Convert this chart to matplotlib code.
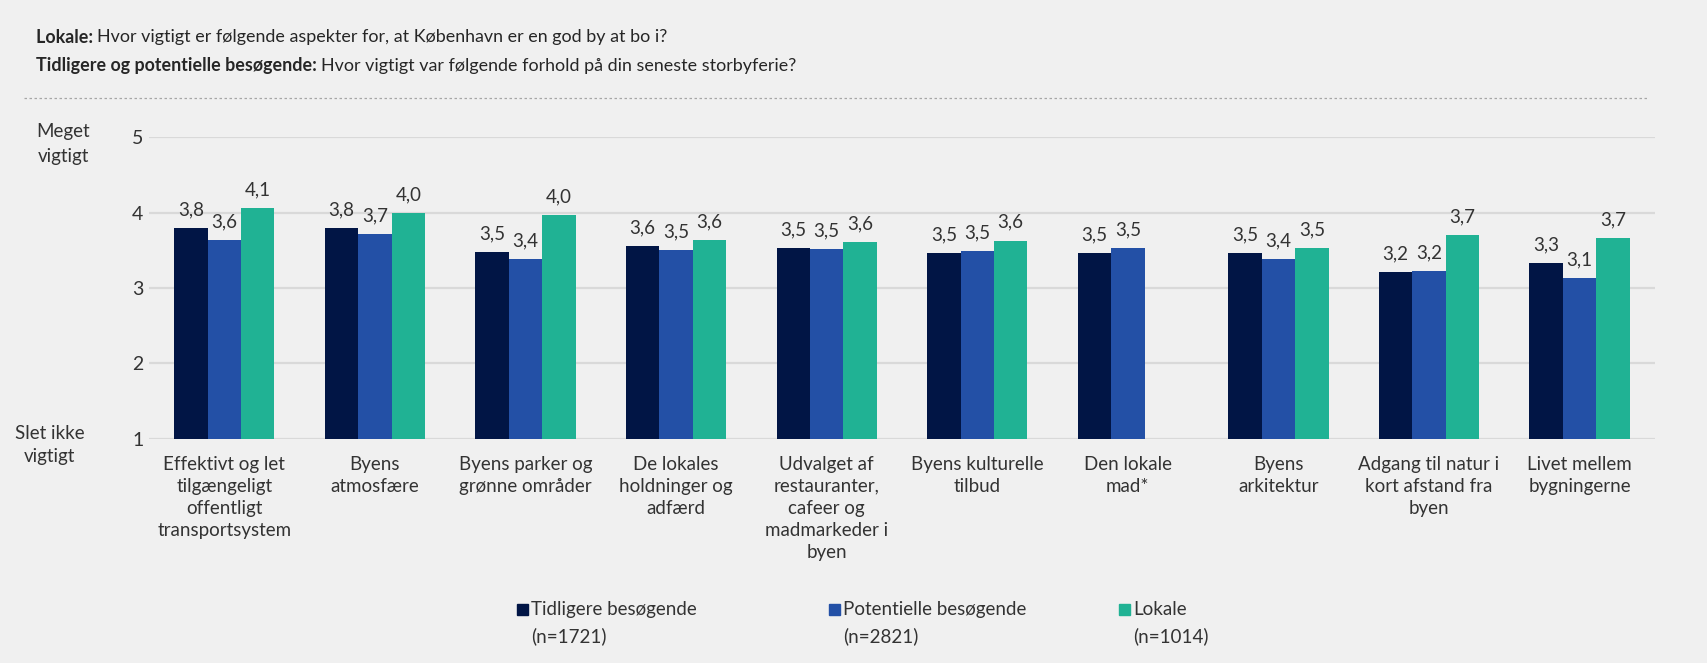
import numpy as np
import matplotlib
matplotlib.use("Agg")
import matplotlib.pyplot as plt
from matplotlib.patches import Rectangle
from matplotlib.lines import Line2D

plt.rcParams['font.family'] = ['Lato', 'DejaVu Sans']

# --- DATA ---
categories = [
    "Effektivt og let\ntilgængeligt\noffentligt\ntransportsystem",
    "Byens\natmosfære",
    "Byens parker og\ngrønne områder",
    "De lokales\nholdninger og\nadfærd",
    "Udvalget af\nrestauranter,\ncafeer og\nmadmarkeder i\nbyen",
    "Byens kulturelle\ntilbud",
    "Den lokale\nmad*",
    "Byens\narkitektur",
    "Adgang til natur i\nkort afstand fra\nbyen",
    "Livet mellem\nbygningerne",
]
tidligere = [3.79, 3.79, 3.48, 3.56, 3.53, 3.47, 3.47, 3.46, 3.21, 3.33]
potentielle = [3.64, 3.72, 3.38, 3.51, 3.52, 3.49, 3.53, 3.39, 3.23, 3.13]
lokale = [4.06, 3.99, 3.97, 3.64, 3.61, 3.63, np.nan, 3.53, 3.70, 3.66]

series_names = ["Tidligere besøgende", "Potentielle besøgende", "Lokale"]
series_n = ["(n=1721)", "(n=2821)", "(n=1014)"]
colors = ["#011545", "#2350a6", "#20b294"]
yticks = [1, 2, 3, 4, 5]

BG = "#f0f0f0"
TXT = "#333333"

fig = plt.figure(figsize=(17.07, 6.63), dpi=100, facecolor=BG)
ax = fig.add_axes([0.0873, 0.338, 0.8822, 0.455])
ax.set_facecolor(BG)

x = np.arange(len(categories))
w = 0.222
for i, vals in enumerate([tidligere, potentielle, lokale]):
    vals = np.array(vals, dtype=float)
    bars = ax.bar(x + (i - 1) * w, vals - 1, bottom=1, width=w, color=colors[i],
                  edgecolor="none", zorder=3)
    labels = ["" if np.isnan(v) else f"{v:.1f}".replace(".", ",") for v in vals]
    ax.bar_label(bars, labels=labels, padding=7, fontsize=13.5, color=TXT)

ax.set_xlim(-0.5, len(categories) - 0.5)
ax.set_ylim(1, 5)
ax.set_yticks(yticks)
ax.set_yticklabels([str(t) for t in yticks], fontsize=14, color=TXT)
ax.tick_params(axis='y', length=0, pad=4)
ax.set_xticks(x)
ax.set_xticklabels(categories, fontsize=13.5, color=TXT, linespacing=1.37, va='top')
ax.tick_params(axis='x', length=0, pad=12)
ax.grid(axis='y', color="#d9d9d9", linewidth=1.6, zorder=0)
for s in ['top', 'right', 'left', 'bottom']:
    ax.spines[s].set_visible(False)

# y-axis end labels
fig.text(0.037, 0.783, "Meget\nvigtigt", ha='center', va='center', fontsize=13.5,
         color=TXT, linespacing=1.55)
fig.text(0.029, 0.329, "Slet ikke\nvigtigt", ha='center', va='center', fontsize=13.5,
         color=TXT, linespacing=1.45)

# title lines with bold prefix
renderer = fig.canvas.get_renderer()
title_lines = [
    ("Lokale: ", "Hvor vigtigt er følgende aspekter for, at København er en god by at bo i?"),
    ("Tidligere og potentielle besøgende: ", "Hvor vigtigt var følgende forhold på din seneste storbyferie?"),
]
for (bold, rest), yy in zip(title_lines, [0.944, 0.901]):
    t = fig.text(0.021, yy, bold, fontsize=12.9, fontweight='bold', color="#262626", va='center')
    bb = t.get_window_extent(renderer)
    x1 = bb.x1 / fig.bbox.width
    fig.text(x1, yy, rest, fontsize=12.9, color="#262626", va='center')

fig.add_artist(Line2D([0.014, 0.966], [0.852, 0.852], transform=fig.transFigure,
                      color="#a6a6a6", linewidth=0.9, linestyle=(0, (2, 2))))

# legend
leg_x = [0.306, 0.489, 0.659]
sq_w = 11 / 1707
sq_h = 11 / 663
for lx, name, n, c in zip(leg_x, series_names, series_n, colors):
    fig.add_artist(Rectangle((lx - sq_w / 2, 0.080 - sq_h / 2), sq_w, sq_h,
                             transform=fig.transFigure, color=c))
    fig.text(lx + 0.005, 0.080, name, fontsize=13.5, color=TXT, va='center')
    fig.text(lx + 0.005, 0.040, n, fontsize=13.5, color=TXT, va='center')

fig.savefig("out.png", dpi=100, facecolor=BG)
